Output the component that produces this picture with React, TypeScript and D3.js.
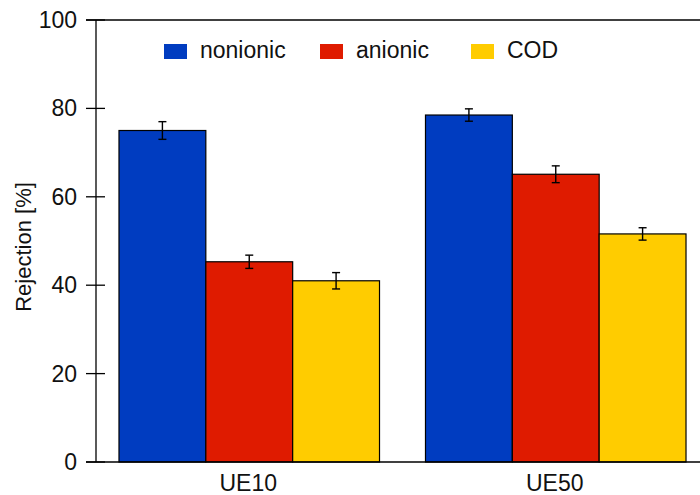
import React from "react";
import * as d3 from "d3";

const categories = ["UE10", "UE50"];
const seriesNames = ["nonionic", "anionic", "COD"];
const nonionic = [75.0, 78.5];
const anionic = [45.3, 65.1];
const cod = [41.0, 51.6];
const nonionicErr = [2.0, 1.4];
const anionicErr = [1.5, 1.9];
const codErr = [1.85, 1.4];
const yTicks = [0, 20, 40, 60, 80, 100];

const colors = ["#003CC0", "#DF1B00", "#FFCC00"];
const values = [nonionic, anionic, cod];
const errors = [nonionicErr, anionicErr, codErr];

const W = 700;
const H = 495;
const left = 96;
const right = 709;
const top = 20;
const bottom = 462;
const font = "'Liberation Sans', Arial, Helvetica, sans-serif";
const fs = 23;

export default function App() {
  const y = d3.scaleLinear().domain([0, 100]).range([bottom, top]);
  const x0 = d3
    .scaleBand<string>()
    .domain(categories)
    .range([left, right])
    .paddingInner(0.15)
    .paddingOuter(0.075);
  const x1 = d3
    .scaleBand<string>()
    .domain(seriesNames)
    .range([0, x0.bandwidth()]);

  const legendX = [164, 320, 471];

  return (
    <svg
      width={W}
      height={H}
      style={{ position: "absolute", left: 0, top: 0, background: "#fff" }}
      fontFamily={font}
    >
      <rect x={0} y={0} width={W} height={H} fill="#fff" />
      {categories.map((c, ci) =>
        seriesNames.map((s, si) => {
          const v = values[si][ci];
          const e = errors[si][ci];
          const bx = (x0(c) ?? 0) + (x1(s) ?? 0);
          const bw = x1.bandwidth();
          const cx = bx + bw / 2;
          return (
            <g key={c + s}>
              <rect
                x={bx}
                y={y(v)}
                width={bw}
                height={y(0) - y(v)}
                fill={colors[si]}
                stroke="#000"
                strokeWidth={1.2}
              />
              <line x1={cx} x2={cx} y1={y(v + e)} y2={y(v - e)} stroke="#000" strokeWidth={1.4} />
              <line x1={cx - 4} x2={cx + 4} y1={y(v + e)} y2={y(v + e)} stroke="#000" strokeWidth={1.4} />
              <line x1={cx - 4} x2={cx + 4} y1={y(v - e)} y2={y(v - e)} stroke="#000" strokeWidth={1.4} />
            </g>
          );
        })
      )}
      <line x1={left} x2={left} y1={top} y2={bottom} stroke="#000" strokeWidth={1.3} />
      <line x1={left - 10} x2={W + 10} y1={top} y2={top} stroke="#000" strokeWidth={1.6} />
      <line x1={left - 10} x2={W + 10} y1={bottom} y2={bottom} stroke="#000" strokeWidth={1.6} />
      {yTicks.map((t) => (
        <g key={t}>
          <line x1={left - 10} x2={left + 9} y1={y(t)} y2={y(t)} stroke="#000" strokeWidth={1.3} />
          <text x={77} y={y(t) + 8} textAnchor="end" fontSize={fs} fill="#111">
            {t}
          </text>
        </g>
      ))}
      {categories.map((c) => (
        <text
          key={c}
          x={(x0(c) ?? 0) + x0.bandwidth() / 2 - 1}
          y={491}
          textAnchor="middle"
          fontSize={fs}
          fill="#111"
        >
          {c}
        </text>
      ))}
      <text
        transform={`translate(31,${(top + bottom) / 2 + 6}) rotate(-90)`}
        textAnchor="middle"
        fontSize={22}
        fill="#111"
      >
        Rejection [%]
      </text>
      {seriesNames.map((s, i) => (
        <g key={s}>
          <rect x={legendX[i]} y={44} width={23} height={15} fill={colors[i]} />
          <text x={legendX[i] + 36} y={57.5} fontSize={fs} fill="#111">
            {s}
          </text>
        </g>
      ))}
    </svg>
  );
}
